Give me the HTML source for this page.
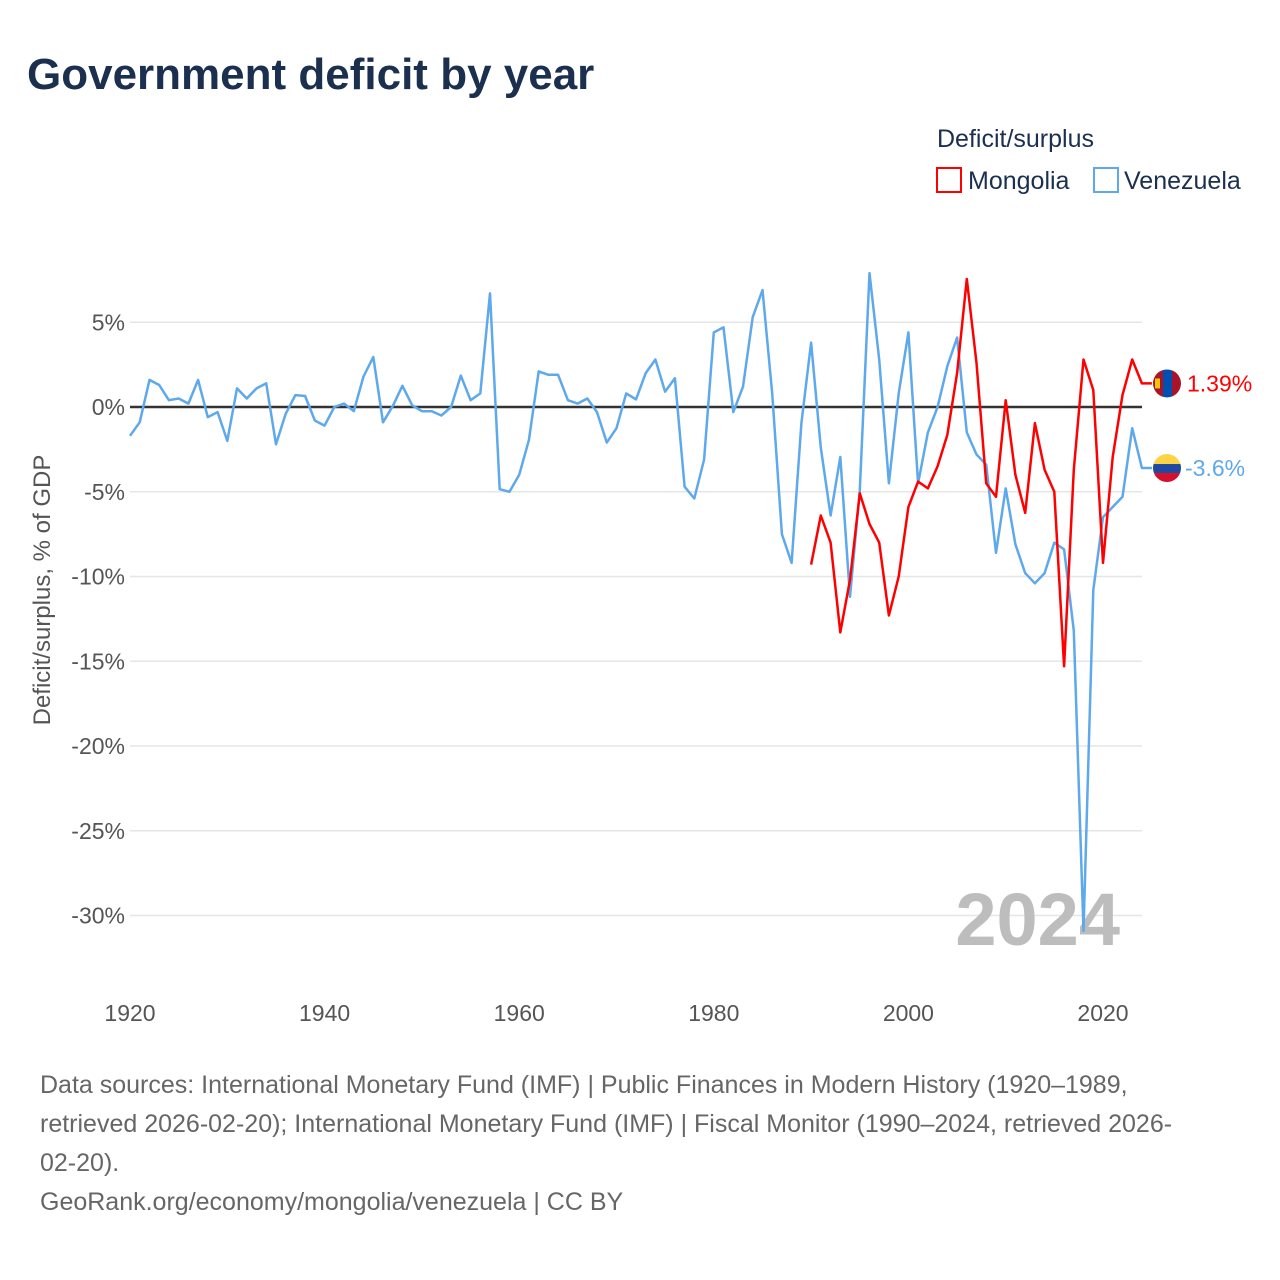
<!DOCTYPE html>
<html><head><meta charset="utf-8">
<style>
body{margin:0;background:#fff;font-family:"Liberation Sans",sans-serif;}
#wrap{position:relative;width:1280px;height:1280px;overflow:hidden;}
.title{position:absolute;left:27px;top:50px;font-size:44px;font-weight:bold;color:#1b2f4e;}
.foot{position:absolute;left:40px;top:1066px;font-size:25px;line-height:39px;color:#666;white-space:nowrap;}
</style></head><body>
<div id="wrap">
<div class="title">Government deficit by year</div>
<svg id="chart" width="1280" height="1280" style="position:absolute;left:0;top:0"></svg>
<div class="foot">Data sources: International Monetary Fund (IMF) | Public Finances in Modern History (1920–1989,<br>retrieved 2026-02-20); International Monetary Fund (IMF) | Fiscal Monitor (1990–2024, retrieved 2026-<br>02-20).<br>GeoRank.org/economy/mongolia/venezuela | CC BY</div>
</div>
<script>
const yTicks=[5,0,-5,-10,-15,-20,-25,-30];
const xTicks=[1920,1940,1960,1980,2000,2020];
const venStart=1920;
const venezuela=[-1.7,-0.9,1.6,1.3,0.4,0.5,0.2,1.6,-0.6,-0.3,-2.0,1.1,0.5,1.1,1.4,-2.2,-0.4,0.7,0.65,-0.8,-1.1,0.0,0.2,-0.25,1.8,2.95,-0.9,0.05,1.25,0.1,-0.25,-0.25,-0.5,0.0,1.85,0.4,0.8,6.7,-4.85,-5.0,-4.0,-1.95,2.1,1.9,1.9,0.4,0.2,0.5,-0.3,-2.1,-1.25,0.8,0.45,2.0,2.8,0.9,1.7,-4.7,-5.4,-3.1,4.4,4.7,-0.3,1.2,5.3,6.9,0.8,-7.5,-9.2,-0.95,3.8,-2.4,-6.4,-2.95,-11.2,-4.9,7.9,2.8,-4.5,0.8,4.4,-4.5,-1.5,0.0,2.4,4.1,-1.5,-2.8,-3.4,-8.6,-4.8,-8.1,-9.8,-10.4,-9.8,-8.0,-8.4,-13.2,-30.9,-10.8,-6.5,-5.9,-5.3,-1.25,-3.6];
const monStart=1990;
const mongolia=[-9.3,-6.4,-8.0,-13.3,-10.2,-5.1,-6.9,-8.0,-12.3,-10.0,-5.9,-4.4,-4.8,-3.5,-1.65,2.0,7.55,2.6,-4.5,-5.3,0.4,-4.0,-6.25,-0.95,-3.7,-5.0,-15.3,-3.7,2.8,1.0,-9.2,-2.95,0.7,2.8,1.39];
const NS='http://www.w3.org/2000/svg';
const svg=document.getElementById('chart');
const X=yr=>130+(yr-1920)*9.73;
const Y=v=>407-v*16.95;
const FF='Liberation Sans, sans-serif';
function mk(tag,attrs,txt){const e=document.createElementNS(NS,tag);for(const k in attrs)e.setAttribute(k,attrs[k]);if(txt!==undefined)e.textContent=txt;svg.appendChild(e);return e;}
yTicks.forEach(t=>{
  if(t!==0){const g=mk('line',{x1:130,x2:1142,y1:Y(t),y2:Y(t),stroke:'#e6e6e6','stroke-width':1.5});
  
  }
  const l=mk('text',{x:125,y:Y(t)+8,'text-anchor':'end','font-size':23,fill:'#555','font-family':FF},t+'%');
  
  
});
const z=mk('line',{x1:130,x2:1142,y1:Y(0),y2:Y(0),stroke:'#333','stroke-width':2.5});


xTicks.forEach(t=>{const l=mk('text',{x:X(t),y:1021,'text-anchor':'middle','font-size':23,fill:'#555','font-family':FF},t);

});
const yt=mk('text',{transform:'translate(50,590) rotate(-90)','text-anchor':'middle','font-size':24,fill:'#555','font-family':FF},'Deficit/surplus, % of GDP');


const yr=mk('text',{x:1120,y:945,'text-anchor':'end','font-size':74,'font-weight':'bold',fill:'#bdbdbd','font-family':FF},'2024');


function line(data,start,color,name){
  const pts=data.map((v,i)=>X(start+i).toFixed(1)+','+Y(v).toFixed(1));
  const last=data[data.length-1];
  pts.push((X(start+data.length-1)+10).toFixed(1)+','+Y(last).toFixed(1));
  const p=mk('polyline',{points:pts.join(' '),fill:'none',stroke:color,'stroke-width':2.5,'stroke-linejoin':'round'});
  
  
}
line(venezuela,venStart,'#5ea8ec','venezuela-line');
line(mongolia,monStart,'#ff0000','mongolia-line');
const mY=Y(mongolia[mongolia.length-1]), vY=Y(venezuela[venezuela.length-1]);
const cx=1167;
mk('defs',{}).innerHTML='<clipPath id="c1"><circle cx="'+cx+'" cy="'+mY+'" r="14"/></clipPath><clipPath id="c2"><circle cx="'+cx+'" cy="'+vY+'" r="14"/></clipPath>';
const fm=mk('g',{'clip-path':'url(#c1)'});


fm.innerHTML='<rect x="'+(cx-14)+'" y="'+(mY-14)+'" width="10" height="28" fill="#a8142a"/><rect x="'+(cx-4)+'" y="'+(mY-14)+'" width="9" height="28" fill="#0050b4"/><rect x="'+(cx+5)+'" y="'+(mY-14)+'" width="10" height="28" fill="#a8142a"/><rect x="'+(cx-12)+'" y="'+(mY-5)+'" width="5" height="10" fill="#f5c400"/>';
const fv=mk('g',{'clip-path':'url(#c2)'});


fv.innerHTML='<rect x="'+(cx-14)+'" y="'+(vY-14)+'" width="28" height="10" fill="#fcd444"/><rect x="'+(cx-14)+'" y="'+(vY-4)+'" width="28" height="9" fill="#1f4aa0"/><rect x="'+(cx-14)+'" y="'+(vY+5)+'" width="28" height="10" fill="#d4102c"/>';
const lm=mk('text',{x:1187,y:mY+8,'font-size':23,fill:'#ff0000','font-family':FF},mongolia[mongolia.length-1]+'%');


const lv=mk('text',{x:1185,y:vY+8,'font-size':23,fill:'#5ea8ec','font-family':FF},venezuela[venezuela.length-1]+'%');


const lt=mk('text',{x:937,y:147,'font-size':25,fill:'#1b2f4e','font-family':FF},'Deficit/surplus');


const b1=mk('rect',{x:937,y:168,width:24,height:24,fill:'none',stroke:'#ff0000','stroke-width':2});


const t1=mk('text',{x:968,y:189,'font-size':25,fill:'#1b2f4e','font-family':FF},'Mongolia');


const b2=mk('rect',{x:1094,y:168,width:24,height:24,fill:'none',stroke:'#5ea8ec','stroke-width':2});


const t2=mk('text',{x:1124,y:189,'font-size':25,fill:'#1b2f4e','font-family':FF},'Venezuela');


</script>
</body></html>
